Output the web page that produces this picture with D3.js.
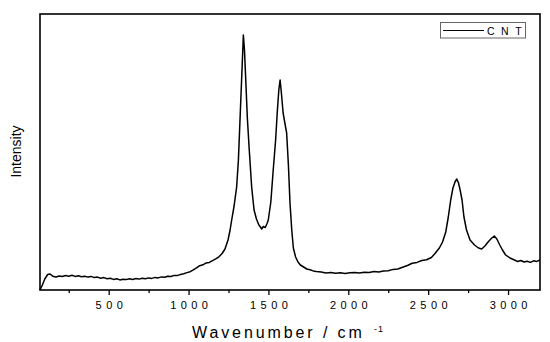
<!DOCTYPE html>
<html>
<head>
<meta charset="utf-8">
<script src="https://cdn.jsdelivr.net/npm/d3@7"></script>
<style>
  body { margin: 0; background: #fff; }
  svg { font-family: "Liberation Sans", Arial, sans-serif; }
</style>
</head>
<body>
<div id="chart"></div>
<script>
const svgWidth = 550
const svgHeight = 342

let margin = { top: 14, right: 10, bottom: 52, left: 40 }
let width = svgWidth - margin.left - margin.right
let height = svgHeight - margin.top - margin.bottom

// Raman spectrum (arbitrary intensity units)
const wavenumber = [
  70, 85, 100, 118, 133, 150, 170, 190, 210, 230, 250, 270, 290, 310, 330, 350, 370, 390, 410, 430,
  450, 470, 490, 510, 530, 550, 570, 590, 610, 630, 650, 670, 690, 710, 730, 750, 770, 790, 810, 830,
  850, 870, 890, 910, 930, 950, 970, 990, 1010, 1030, 1050, 1070, 1090, 1110, 1130, 1150, 1170, 1190, 1210, 1228,
  1247, 1260, 1270, 1285, 1301, 1312, 1322, 1335, 1343, 1350, 1358, 1368, 1380, 1395, 1410, 1425, 1440, 1450, 1458, 1468,
  1480, 1490, 1499, 1515, 1530, 1545, 1555, 1565, 1573, 1580, 1592, 1605, 1614, 1625, 1635, 1646, 1656, 1670, 1685, 1700,
  1720, 1740, 1760, 1780, 1800, 1830, 1860, 1890, 1920, 1950, 1980, 2010, 2040, 2070, 2100, 2130, 2160, 2190, 2220, 2250,
  2280, 2310, 2340, 2370, 2400, 2430, 2460, 2490, 2520, 2540, 2570, 2590, 2610, 2626, 2641, 2655, 2668, 2679, 2690, 2700,
  2712, 2724, 2740, 2762, 2790, 2815, 2835, 2855, 2875, 2895, 2914, 2930, 2948, 2965, 2985, 3012, 3040, 3060, 3080, 3100,
  3120, 3140, 3160, 3180, 3200
]
const intensity = [
  0, 5, 11, 15.5, 16, 13.8, 13, 14, 13.5, 14.5, 13.8, 14.8, 13.6, 14.2, 13.2, 13.8, 12.9, 13.6, 12.4, 12.9,
  11.8, 12.4, 11.3, 11.8, 10.6, 11.2, 10.1, 10.8, 10.4, 11.3, 10.6, 11.4, 10.9, 11.8, 11.2, 12.1, 11.6, 12.6, 12.1, 13.1,
  12.7, 13.8, 13.5, 14.6, 14.4, 15.6, 16.2, 17.4, 18.3, 20.2, 22.1, 24.3, 25.2, 27.1, 27.6, 29.4, 31.1, 33.2, 36.5, 41,
  50, 60, 70, 84, 103, 130, 170, 222, 255, 240, 210, 172, 140, 103, 80, 71, 65, 63, 61, 63.5,
  62.5, 66, 70, 88, 120, 150, 177, 200, 210, 199, 177, 165, 157, 125, 87, 60, 42, 33, 28, 25,
  23, 21, 20.2, 19.1, 18.6, 18, 17.1, 17.6, 16.8, 17.3, 16.6, 17.2, 17.6, 17, 17.8, 17.5, 18.4, 18, 19, 19.3,
  20.6, 21, 22.8, 24.5, 26.8, 27.6, 29.5, 30.2, 32.5, 36, 42, 48, 58, 73, 90, 102, 108, 111, 107, 100,
  90, 73, 60, 50, 45, 42, 41, 44, 48, 51.5, 54, 51, 45, 40, 35, 32, 30, 28.5, 29.5, 28,
  28.8, 27.6, 29.2, 28.6, 30
]
const majorTicks = [500, 1000, 1500, 2000, 2500, 3000]
const minorTicks = [250, 750, 1250, 1750, 2250, 2750]
const xDomain = [70, 3200]
const yDomain = [0, 276]
const seriesName = "CNT"

let spectrum = wavenumber.map((w, i) => ({ w: w, v: intensity[i] }))

let svg = d3.select("#chart")
  .append("svg")
  .attr("width", svgWidth)
  .attr("height", svgHeight)

let chartGroup = svg.append("g")
  .attr("transform", `translate(${margin.left}, ${margin.top})`)

let xScale = d3.scaleLinear().domain(xDomain).range([0, width])
let yScale = d3.scaleLinear().domain(yDomain).range([height, 0])

// spectrum line
let line = d3.line()
  .x(d => xScale(d.w))
  .y(d => yScale(d.v))

chartGroup.append("path")
  .datum(spectrum)
  .attr("d", line)
  .attr("fill", "none")
  .attr("stroke", "#000")
  .attr("stroke-width", 1.5)
  .attr("stroke-linejoin", "round")

// minor ticks
chartGroup.append("g")
  .attr("transform", `translate(0, ${height})`)
  .call(d3.axisBottom(xScale).tickValues(minorTicks).tickSize(3).tickFormat(""))
  .call(g => g.select(".domain").remove())
  .call(g => g.selectAll("line").attr("stroke-width", 1.3))

// major ticks + labels
const tickLs = 4.4
chartGroup.append("g")
  .attr("transform", `translate(0, ${height})`)
  .call(d3.axisBottom(xScale).tickValues(majorTicks).tickSize(5).tickPadding(6.5).tickFormat(d3.format("d")))
  .call(g => g.select(".domain").remove())
  .call(g => g.selectAll("line").attr("stroke-width", 1.3))
  .call(g => g.selectAll("text")
    .attr("font-family", "'Liberation Sans', Arial, sans-serif")
    .attr("font-size", "11px")
    .attr("letter-spacing", tickLs + "px")
    .attr("dx", tickLs / 2)
    .attr("fill", "#000"))

// frame
chartGroup.append("rect")
  .attr("x", 0)
  .attr("y", 0)
  .attr("width", width)
  .attr("height", height)
  .attr("fill", "none")
  .attr("stroke", "#000")
  .attr("stroke-width", 1.6)

// axis titles
svg.append("text")
  .attr("x", 192)
  .attr("y", 337.5)
  .attr("font-size", "16px")
  .attr("letter-spacing", "2.9px")
  .text("Wavenumber / cm")

svg.append("text")
  .attr("x", 374)
  .attr("y", 332)
  .attr("font-size", "9px")
  .attr("letter-spacing", "1px")
  .text("-1")

svg.append("text")
  .attr("transform", "translate(21, 151.5) rotate(-90)")
  .attr("text-anchor", "middle")
  .attr("font-size", "14px")
  .text("Intensity")

// legend
let legend = svg.append("g")
legend.append("rect")
  .attr("x", 440.5)
  .attr("y", 22.5)
  .attr("width", 85)
  .attr("height", 15.5)
  .attr("fill", "#fff")
  .attr("stroke", "#666")
  .attr("stroke-width", 1)
legend.append("line")
  .attr("x1", 443)
  .attr("x2", 484)
  .attr("y1", 30.5)
  .attr("y2", 30.5)
  .attr("stroke", "#000")
  .attr("stroke-width", 1)
legend.append("text")
  .attr("x", 487)
  .attr("y", 34.5)
  .attr("font-size", "10.5px")
  .attr("letter-spacing", "6.5px")
  .text(seriesName)
</script>
</body>
</html>
